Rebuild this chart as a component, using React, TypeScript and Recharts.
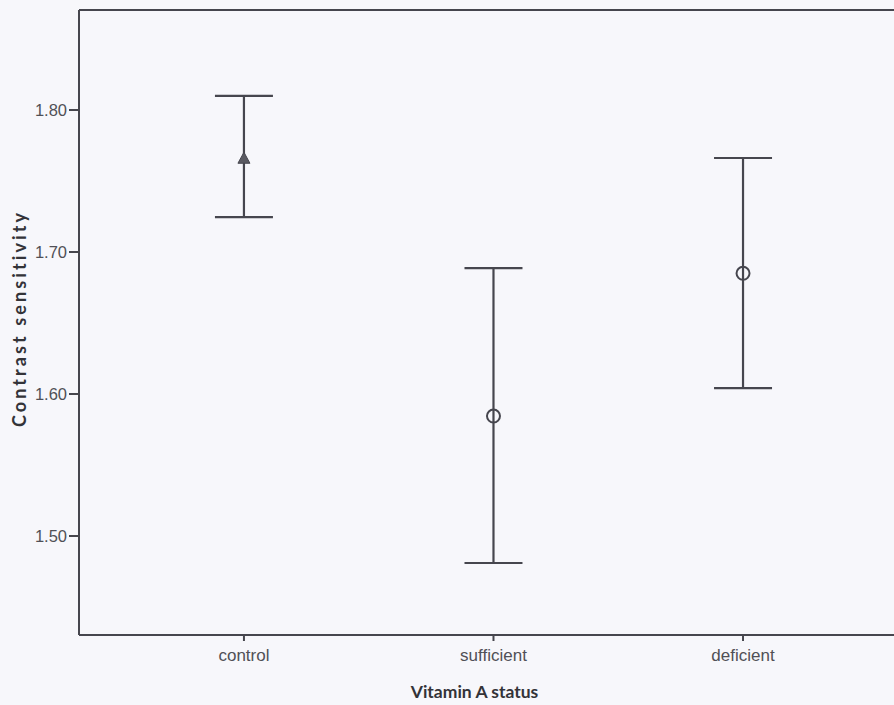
import React from 'react';
import { ComposedChart, Scatter, XAxis, YAxis, ErrorBar, ReferenceLine, Label } from 'recharts';

const categories = ['control', 'sufficient', 'deficient'];
const means = [1.766, 1.5845, 1.685];
const lowers = [1.7246, 1.481, 1.6042];
const uppers = [1.8099, 1.6887, 1.7662];
const markers = ['triangle', 'circle', 'circle'];
const yTicks = [1.5, 1.6, 1.7, 1.8];
const xTicks = [0, 1, 2];
const yDomain: [number, number] = [1.4303, 1.8704];
const xDomain: [number, number] = [-0.661, 2.605];

const data = categories.map((c, i) => ({
  idx: i,
  name: c,
  mean: means[i],
  err: [means[i] - lowers[i], uppers[i] - means[i]],
  marker: markers[i],
}));

const LINE = '#46464e';
const TICK = '#505056';

const MarkerShape = (props: any) => {
  const { cx, cy, payload } = props;
  if (cx == null || cy == null) return null;
  if (payload.marker === 'triangle') {
    return (
      <path
        d={`M${cx},${cy - 6} L${cx + 6},${cy + 5} L${cx - 6},${cy + 5} Z`}
        fill="#5a5a62"
        stroke={LINE}
        strokeWidth={1}
      />
    );
  }
  return <circle cx={cx} cy={cy} r={6.5} fill="none" stroke={LINE} strokeWidth={2} />;
};

const YTitle = (props: any) => {
  const vb = props.viewBox || {};
  const x = vb.x + 19;
  const y = vb.y + vb.height / 2 - 4;
  return (
    <text
      x={x}
      y={y}
      transform={`rotate(-90, ${x}, ${y})`}
      textAnchor="middle"
      dominantBaseline="central"
      fontFamily="Lato, 'Liberation Sans', sans-serif"
      fontWeight="bold"
      fontSize={18}
      letterSpacing={3.1}
      fill="#333338"
    >
      Contrast sensitivity
    </text>
  );
};

const XTitle = (props: any) => {
  const vb = props.viewBox || {};
  const x = vb.x + vb.width / 2 - 12;
  const y = vb.y + 56;
  return (
    <text
      x={x}
      y={y}
      textAnchor="middle"
      dominantBaseline="central"
      fontFamily="Lato, 'Liberation Sans', sans-serif"
      fontWeight="bold"
      fontSize={17.5}
      fill="#333338"
    >
      Vitamin A status
    </text>
  );
};

export default function App() {
  return (
    <div
      style={{
        position: 'absolute',
        left: 0,
        top: 0,
        width: 894,
        height: 705,
        background: '#f7f7fb',
        overflow: 'hidden',
      }}
    >
      <ComposedChart
        width={894}
        height={705}
        data={data}
        margin={{ top: 10, right: 0, bottom: 20, left: 0 }}
      >
        <XAxis
          dataKey="idx"
          type="number"
          domain={xDomain}
          ticks={xTicks}
          allowDataOverflow
          tickFormatter={(v: number) => categories[v] ?? ''}
          height={50}
          tickSize={6}
          tickMargin={8}
          axisLine={{ stroke: LINE, strokeWidth: 2 }}
          tickLine={{ stroke: LINE, strokeWidth: 2 }}
          tick={{ fill: TICK, fontSize: 17, fontFamily: "'Liberation Sans', Arial, sans-serif" }}
        >
          <Label content={<XTitle />} />
        </XAxis>
        <YAxis
          type="number"
          domain={yDomain}
          ticks={yTicks}
          allowDataOverflow
          width={79}
          tickFormatter={(v: number) => v.toFixed(2)}
          tickSize={10}
          tickMargin={2}
          axisLine={{ stroke: LINE, strokeWidth: 2 }}
          tickLine={{ stroke: LINE, strokeWidth: 2 }}
          tick={{ fill: TICK, fontSize: 16.5, fontFamily: "'Liberation Sans', Arial, sans-serif" }}
        >
          <Label content={<YTitle />} />
        </YAxis>
        <ReferenceLine y={yDomain[1]} stroke={LINE} strokeWidth={2} ifOverflow="visible" />
        <Scatter dataKey="mean" isAnimationActive={false} shape={<MarkerShape />}>
          <ErrorBar
            dataKey="err"
            direction="y"
            width={29}
            stroke={LINE}
            strokeWidth={2.2}
            isAnimationActive={false}
          />
        </Scatter>
      </ComposedChart>
    </div>
  );
}
